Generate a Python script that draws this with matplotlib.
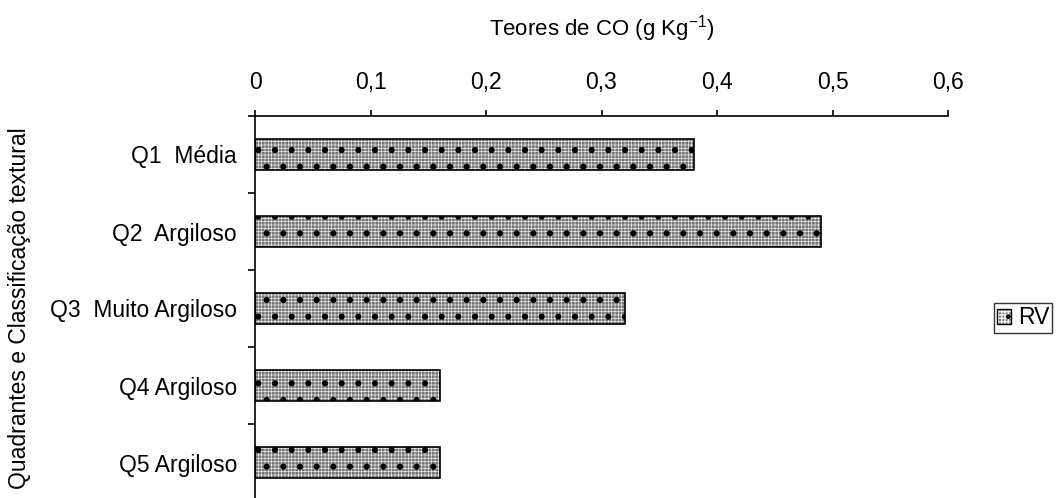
import matplotlib
matplotlib.use("Agg")
import matplotlib.pyplot as plt
from matplotlib.patches import Patch
from matplotlib.legend_handler import HandlerTuple

plt.rcParams["font.family"] = ["Liberation Sans", "DejaVu Sans"]

categories = ["Q1  Média", "Q2  Argiloso", "Q3  Muito Argiloso", "Q4 Argiloso", "Q5 Argiloso"]
rv_values = [0.38, 0.49, 0.32, 0.16, 0.16]
x_ticks = [0, 0.1, 0.2, 0.3, 0.4, 0.5, 0.6]
x_tick_labels = ["0", "0,1", "0,2", "0,3", "0,4", "0,5", "0,6"]

FACE = "#767676"
FS = 16.5

W, H = 1057, 498
fig = plt.figure(figsize=(W / 100, H / 100), dpi=100)
ax = fig.add_axes([255 / W, -3 / H, (948 - 255) / W, (382 + 3) / H])

pos = list(range(len(categories)))
# fill: gray with a fine white mesh, then black dots and outline on top
with plt.rc_context({"hatch.linewidth": 0.45}):
    ax.barh(pos, rv_values, height=0.41, color=FACE, edgecolor="#f0f0f0",
            linewidth=0, hatch="+++++")
    mesh = Patch(facecolor=FACE, edgecolor="#f0f0f0", linewidth=0, hatch="+++++")
with plt.rc_context({"hatch.linewidth": 2.0}):
    ax.barh(pos, rv_values, height=0.41, color="none", edgecolor="black",
            linewidth=1.2, hatch=".")
    dots = Patch(facecolor="none", edgecolor="black", linewidth=1.0, hatch=".")

ax.set_xlim(0, 0.6)
ax.set_ylim(len(categories) - 0.5, -0.5)
ax.xaxis.tick_top()
ax.xaxis.set_label_position("top")
ax.set_xticks(x_ticks)
ax.set_xticklabels(x_tick_labels)

# category ticks sit on the boundaries between bars, labels in between
ax.set_yticks([p - 0.5 for p in pos] + [pos[-1] + 0.5])
ax.set_yticklabels([])
ax.set_yticks(pos, minor=True)
ax.set_yticklabels(categories, minor=True)
ax.tick_params(axis="y", which="minor", length=0, pad=13, labelsize=FS)
ax.tick_params(axis="y", which="major", length=5, width=1.2, direction="out")
ax.tick_params(axis="x", length=4.5, width=1.2, direction="out", labelsize=FS, pad=11)

for side in ("right", "bottom"):
    ax.spines[side].set_visible(False)
for side in ("top", "left"):
    ax.spines[side].set_linewidth(1.2)

ax.set_xlabel("Teores de CO (g Kg$^{\\mathregular{-1}}$)", fontsize=16, labelpad=26)
ax.set_ylabel("Quadrantes e Classificação textural", fontsize=FS, labelpad=14)

leg = fig.legend(handles=[(mesh, dots)], labels=["RV"],
                 handler_map={tuple: HandlerTuple(ndivide=1, pad=0)},
                 loc="center", bbox_to_anchor=(1023 / W, 1 - 318 / H),
                 fontsize=FS, frameon=True, fancybox=False, edgecolor="black",
                 handlelength=0.6, handleheight=0.65, handletextpad=0.3,
                 borderpad=0.15, borderaxespad=0)
leg.get_frame().set_linewidth(1.0)

fig.savefig("out.png", dpi=100, facecolor="white")
